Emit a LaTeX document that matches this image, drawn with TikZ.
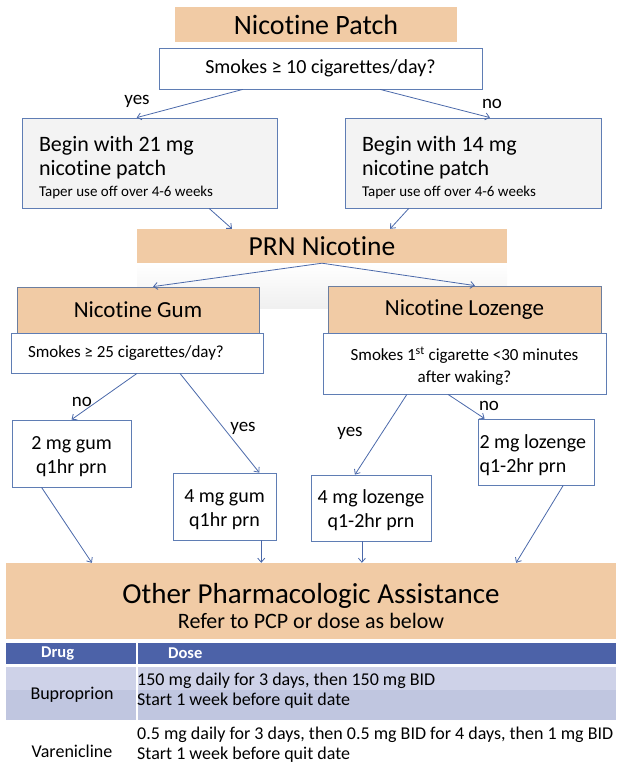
\documentclass[tikz,border=0pt]{standalone}
\usepackage{fontspec}
\setmainfont{Carlito}[Ligatures=CommonOff]
\usetikzlibrary{arrows.meta,calc}
\definecolor{tan}{RGB}{241,203,165}
\definecolor{edge}{RGB}{95,125,180}
\definecolor{arrowblue}{RGB}{75,105,170}
\definecolor{headblue}{RGB}{76,98,168}
\definecolor{rowlight}{RGB}{206,210,232}
\definecolor{rowdark}{RGB}{192,198,224}
\definecolor{boxgray}{RGB}{243,243,243}
\newcommand{\setfs}[2]{\fontsize{#1}{#2}\selectfont}
\newcommand{\lift}[1]{\rule{0pt}{#1}}
\begin{document}
\begin{tikzpicture}[x=1pt, y=-1pt,
	tbox/.style={fill=tan, inner sep=0pt},
	qbox/.style={draw=edge, fill=white, inner sep=0pt, line width=0.8pt},
	pbox/.style={draw=edge, fill=boxgray, inner xsep=17pt, inner ysep=0pt, line width=0.8pt, align=flush left, font=\setfs{22}{24}},
	dbox/.style={draw=edge, fill=white, inner sep=0pt, line width=0.8pt, align=center, font=\setfs{20}{24}},
	sbox/.style={fill=tan, draw=edge!60!gray, inner sep=0pt, line width=0.8pt, font=\setfs{23}{27}},
	arr/.style={draw=arrowblue, line width=0.8pt, -{Straight Barb[length=4pt,width=7pt]}},
	lbl/.style={font=\setfs{19}{22}, anchor=base, inner sep=0pt},
	cell/.style={inner sep=0pt, font=\setfs{18}{20}}]
	\useasboundingbox (0, 0) rectangle (616, 763);
	\fill[top color=white, bottom color=gray!12] (137, 263) rectangle (507, 308);
	\node[tbox, minimum width=282, minimum height=35, font=\setfs{28}{32}] at (316, 24.5) (patch) {Nicotine Patch};
	\node[qbox, minimum width=323, minimum height=41, font=\setfs{20}{24}] at (320.5, 68.5) (ten) {Smokes ≥ 10 cigarettes/day?};
	\node[pbox, text width=221, minimum height=90] at (149.5, 163) (high) {\lift{24pt}Begin with 21 mg\\nicotine patch\\[-3pt]{\setfs{15}{17}Taper use off over 4-6 weeks}};
	\node[pbox, text width=222, minimum height=90] at (473, 163) (low) {\lift{24pt}Begin with 14 mg\\nicotine patch\\[-3pt]{\setfs{15}{17}Taper use off over 4-6 weeks}};
	\node[lbl] at (137, 104) (yes1) {yes};
	\node[lbl] at (492, 108) (no1) {no};
	\draw[arr] ($(ten.south west)!0.26!(ten.south east)$) -- ($(high.north west)!0.45!(high.north east)$);
	\draw[arr] ($(ten.south west)!0.684!(ten.south east)$) -- ($(low.north west)!0.566!(low.north east)$);
	\node[tbox, minimum width=370, minimum height=34, font=\setfs{27.5}{32}] at (322, 246) (prn) {PRN Nicotine};
	\draw[arr] ($(high.south west)!0.733!(high.south east)$) -- ($(prn.north west)!0.257!(prn.north east)$);
	\draw[arr] ($(low.south west)!0.25!(low.south east)$) -- ($(prn.north west)!0.684!(prn.north east)$);
	\node[sbox, minimum width=242, minimum height=46] at (138, 310) (gum) {Nicotine Gum};
	\node[sbox, minimum width=273, minimum height=47] at (464.5, 309.5) (loz) {Nicotine Lozenge};
	\draw[arr] (prn.south) -- ($(gum.north west)!0.562!(gum.north east)$);
	\draw[arr] (prn.south) -- ($(loz.north west)!0.538!(loz.north east)$);
	\node[qbox, minimum width=252, minimum height=40, inner xsep=17pt, text width=218, align=flush left, font=\setfs{17}{20}] at (137, 353) (gumq) {Smokes ≥ 25 cigarettes/day?};
	\node[qbox, minimum width=283, minimum height=61, align=center, font=\setfs{17}{22}] at (464.5, 363.5) (lozq) {\lift{19pt}Smokes 1\textsuperscript{st} cigarette <30 minutes\\after waking?};
	\node[dbox, minimum width=119, minimum height=67] at (71.5, 453.5) (gumtwo) {\lift{20pt}2 mg gum\\q1hr prn};
	\node[dbox, minimum width=103, minimum height=67] at (224.5, 506.5) (gumfour) {\lift{20pt}4 mg gum\\q1hr prn};
	\node[dbox, minimum width=120, minimum height=66] at (371, 508) (lozfour) {\lift{18pt}4 mg lozenge\\q1-2hr prn};
	\node[dbox, minimum height=66, inner xsep=1.5pt, text width=113, align=flush left] at (536, 452) (loztwo) {\lift{21pt}2 mg lozenge\\q1-2hr prn};
	\node[lbl] at (82, 406) (no2) {no};
	\node[lbl] at (243, 431) (yes2) {yes};
	\node[lbl] at (350, 436) (yes3) {yes};
	\node[lbl] at (489, 410) (no3) {no};
	\draw[arr] (gumq.south) -- (gumtwo.north);
	\draw[arr] ($(gumq.south west)!0.67!(gumq.south east)$) -- ($(gumfour.north west)!0.835!(gumfour.north east)$);
	\draw[arr] ($(lozq.south west)!0.297!(lozq.south east)$) -- ($(lozfour.north west)!0.367!(lozfour.north east)$);
	\draw[arr] ($(lozq.south west)!0.442!(lozq.south east)$) -- ($(loztwo.north west)!0.06!(loztwo.north east)$);
	\node[tbox, minimum width=610, minimum height=76, align=center, font=\setfs{22}{28}] at (311, 601) (other) {{\setfs{29}{34}\lift{31pt}Other Pharmacologic Assistance}\\[-3pt]Refer to PCP or dose as below};
	\draw[arr] ($(gumtwo.south west)!0.25!(gumtwo.south east)$) -- ($(other.north west)!0.141!(other.north east)$);
	\draw[arr] ($(gumfour.south west)!0.854!(gumfour.south east)$) coordinate (gf) -- (gf |- other.north);
	\draw[arr] ($(lozfour.south west)!0.425!(lozfour.south east)$) coordinate (lf) -- (lf |- other.north);
	\draw[arr] ($(loztwo.south west)!0.733!(loztwo.south east)$) -- ($(other.north west)!0.836!(other.north east)$);
	\fill[headblue] (6, 643) rectangle (616, 664);
	\fill[rowlight] (6, 667) rectangle (616, 690);
	\fill[rowdark] (6, 690) rectangle (616, 720);
	\draw[white, line width=1.5pt] (137, 643) -- (137, 720);
	\node[cell, anchor=west, text=white, font=\setfs{16.5}{20}\bfseries] at (41, 653.5) (drug) {Drug};
	\node[cell, anchor=west, text=white, font=\setfs{16.5}{20}\bfseries] at (168, 653.5) (dose) {Dose};
	\node[cell] at (72, 695) (bup) {Buproprion};
	\node[cell, anchor=west, align=left] at (137, 691) (bupdose) {150 mg daily for 3 days, then 150 mg BID\\Start 1 week before quit date};
	\node[cell] at (72, 751) (var) {Varenicline};
	\node[cell, anchor=west, align=left] at (137, 745) (vardose) {0.5 mg daily for 3 days, then 0.5 mg BID for 4 days, then 1 mg BID\\Start 1 week before quit date};
\end{tikzpicture}
\end{document}
